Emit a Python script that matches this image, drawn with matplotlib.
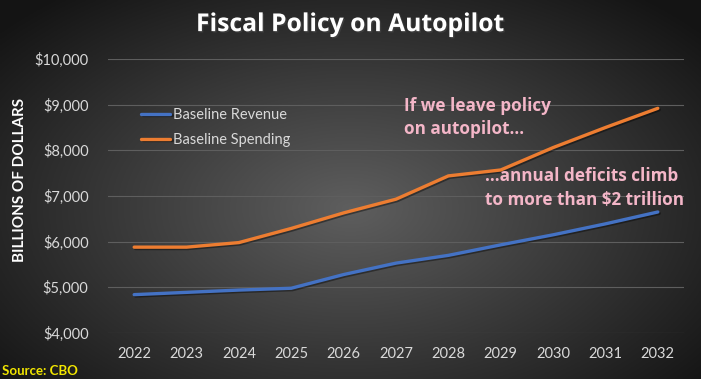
import matplotlib.pyplot as plt
import matplotlib.patheffects as pe
import numpy as np

years = [2022, 2023, 2024, 2025, 2026, 2027, 2028, 2029, 2030, 2031, 2032]
revenue = [4840, 4890, 4940, 4980, 5280, 5530, 5700, 5930, 6150, 6390, 6650]
spending = [5880, 5880, 5980, 6290, 6630, 6930, 7440, 7570, 8060, 8500, 8920]
yticks = [4000, 5000, 6000, 7000, 8000, 9000, 10000]

plt.rcParams['font.family'] = ['Lato', 'DejaVu Sans']

fig = plt.figure(figsize=(7.01, 3.79), dpi=100)

# radial gradient background
bg = fig.add_axes([0, 0, 1, 1], zorder=0)
xx, yy = np.meshgrid(np.linspace(-1, 1, 400), np.linspace(-1, 1, 220))
r = np.sqrt((xx / 1.0) ** 2 + ((yy - 0.1) / 1.1) ** 2)
shade = np.clip(0.37 - 0.22 * r, 0.08, 1)
bg.imshow(np.dstack([shade] * 3), aspect='auto', extent=[0, 1, 0, 1])
bg.axis('off')

ax = fig.add_axes([108 / 701, 1 - 333 / 379, 576 / 701, 274 / 379], zorder=1)
ax.patch.set_alpha(0)
shadow = [pe.SimpleLineShadow(offset=(1, -1), alpha=0.4), pe.Normal()]
ax.plot(years, revenue, color='#4472C4', lw=2.4, label='Baseline Revenue',
        solid_capstyle='round', path_effects=shadow)
ax.plot(years, spending, color='#ED7D31', lw=2.4, label='Baseline Spending',
        solid_capstyle='round', path_effects=shadow)

ax.set_xlim(2021.5, 2032.5)
ax.set_ylim(4000, 10000)
ax.set_xticks(years)
ax.set_yticks(yticks)
ax.set_yticklabels(['${:,}'.format(v) for v in yticks])
ax.grid(axis='y', color='#5e5e5e', lw=0.8)
ax.set_axisbelow(True)
for s in ax.spines.values():
    s.set_visible(False)
ax.tick_params(length=0, colors='#d9d9d9', labelsize=10.5)
ax.tick_params(axis='y', pad=14)
ax.tick_params(axis='x', pad=10)

ax.legend(loc='upper left', bbox_to_anchor=(0.035, 0.87), frameon=False,
          labelcolor='#d9d9d9', fontsize=10.5, handlelength=2.0, handletextpad=0.2,
          labelspacing=0.75)

fig.text(0.5, 0.935, 'Fiscal Policy on Autopilot', color='white', fontsize=17.8,
         fontweight='bold', ha='center', va='center', fontfamily='Open Sans',
         path_effects=[pe.withSimplePatchShadow(offset=(1, -1), alpha=0.5)])
fig.text(0.0285, 0.525, 'BILLIONS OF DOLLARS', color='white', fontsize=11,
         fontweight='bold', rotation=90, ha='center', va='center')
fig.text(0.003, 0.022, 'Source: CBO', color='#f2e600', fontsize=9.5,
         fontweight='bold', ha='left', va='center')

note = dict(color='#f4b6c8', fontsize=12.3, fontweight='bold', ha='left',
            va='center', linespacing=1.42, fontfamily='Open Sans')
ax.text(2027.15, 8720, 'If we leave policy\non autopilot...', **note)
ax.text(2028.7, 7170, '...annual deficits climb\nto more than $2 trillion', **note)

plt.savefig('out.png', dpi=100)
